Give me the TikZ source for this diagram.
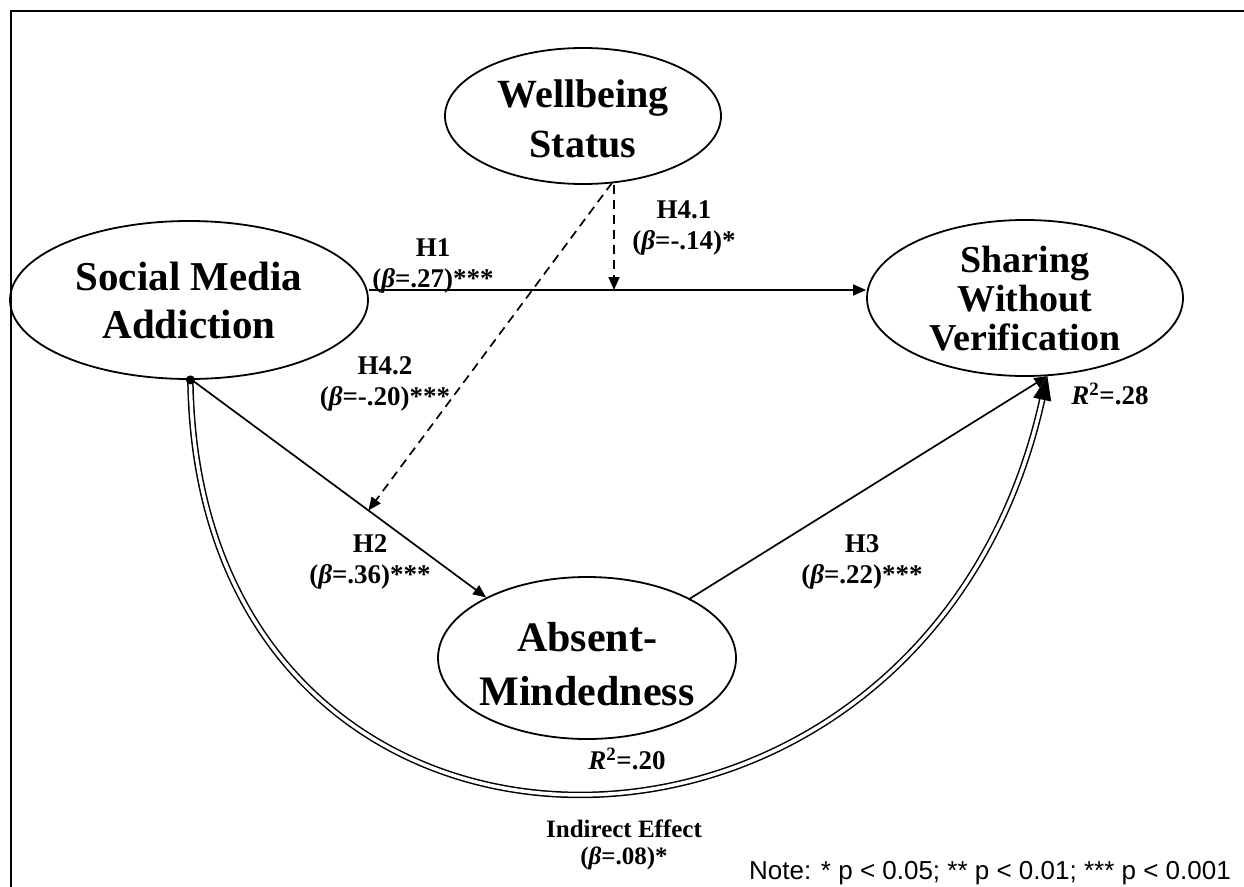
\documentclass[tikz,border=0pt]{standalone}
\usepackage{fontspec}
\setmainfont{Liberation Serif}
\newfontfamily\arialfont{Liberation Sans}
\usetikzlibrary{arrows.meta,shapes.geometric,calc}
\begin{document}
\begin{tikzpicture}[x=1pt,y=-1pt,
  var/.style={ellipse, draw, line width=1.8pt, inner sep=0pt},
  vtext/.style={align=center, inner sep=0pt, font=\bfseries\fontsize{40}{50}\selectfont},
  lbl/.style={font=\bfseries\fontsize{27}{31}\selectfont, align=center, inner sep=0pt},
  effect/.style={line width=1.7pt, -{Triangle[length=13pt,width=11pt]}},
  moder/.style={effect, dash pattern=on 9pt off 6pt},
  total/.style={line width=1.5pt, double distance=3.5pt, draw=black, double=white,
    -{Triangle[length=24pt,width=18pt]}}]
\useasboundingbox (0,0) rectangle (1244,886);
\draw[line width=2pt] (1250,11) -- (11,11) -- (11,892);

\node[var, minimum width=276pt, minimum height=136pt] (wb) at (583,116) {};
\node[vtext] (wbt) at (583,119) {Wellbeing\\Status};
\node[var, minimum width=358pt, minimum height=158pt] (sma) at (189,300) {};
\node[vtext, font=\bfseries\fontsize{41}{48}\selectfont] (smat) at (189,300) {Social Media\\Addiction};
\node[var, minimum width=316pt, minimum height=156pt] (swv) at (1025,298) {};
\node[vtext, font=\bfseries\fontsize{38}{39}\selectfont] (swvt) at (1025,299) {Sharing\\Without\\Verification};
\node[var, minimum width=298pt, minimum height=162pt] (ab) at (587,658) {};
\node[vtext, font=\bfseries\fontsize{42}{54}\selectfont] (abt) at (587,664) {Absent-\\Mindedness};

\coordinate (m1) at (614,290);
\draw[effect] (sma.east |- m1) -- (swv.west |- m1);
\draw[total] (sma.-89) .. controls (197,930) and (925,930) .. (swv.-74);
\fill (sma.-89) circle (4.5pt);
\draw[effect] (sma.-88) -- (ab.149);
\draw[effect] (ab.30) -- (swv.-74);
\draw[moder] (m1 |- wb.south) -- (m1);
\coordinate (m2) at ($(sma.-88)!0.6!(ab.149)$);
\draw[moder] ($(wb.south)+(29,-2)$) -- (m2);

\node[lbl] (l1) at (433,266) {H1\\(\textit{β}=.27)***};
\node[lbl] (l41) at (684,228) {H4.1\\(\textit{β}=-.14)*};
\node[lbl] (l42) at (385,384) {H4.2\\(\textit{β}=-.20)***};
\node[lbl] (l2) at (370,562) {H2\\(\textit{β}=.36)***};
\node[lbl] (l3) at (862,562) {H3\\(\textit{β}=.22)***};
\node[lbl] (r1) at (1110,394) {\textit{R}\textsuperscript{2}=.28};
\node[lbl] (r2) at (627,759) {\textit{R}\textsuperscript{2}=.20};
\node[lbl, font=\bfseries\fontsize{25}{27}\selectfont] (ie) at (624,845) {Indirect Effect\\(\textit{β}=.08)*};
\node[font=\arialfont\fontsize{26}{28}\selectfont, inner sep=0pt, anchor=east] (note) at (1231,873) {Note: * p < 0.05; ** p < 0.01; *** p < 0.001};
\end{tikzpicture}
\end{document}
